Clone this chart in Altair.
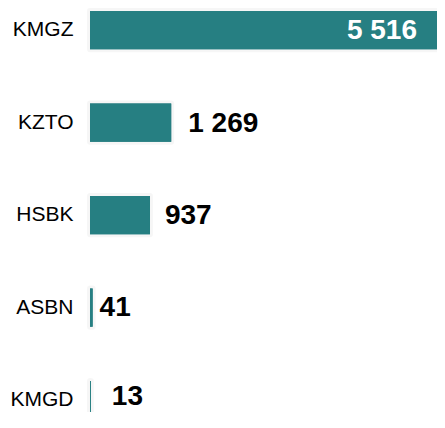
import altair as alt
import pandas as pd

tickers = ["KMGZ", "KZTO", "HSBK", "ASBN", "KMGD"]
values = [5516, 1269, 937, 41, 13]

df = pd.DataFrame({"ticker": tickers, "value": values})

FONT = "Liberation Sans"
BAR_COLOR = "#267f82"

y_enc = alt.Y(
    "ticker:N",
    sort=tickers,
    title=None,
    scale=alt.Scale(paddingInner=0.587, paddingOuter=0.0324, range=[0, 414.2]),
    axis=alt.Axis(
        domain=False, ticks=False, grid=False,
        labelFont=FONT, labelFontSize=21, labelColor="#000000",
        labelPadding=17,
    ),
)
x_enc = alt.X(
    "value:Q", title=None, axis=None,
    scale=alt.Scale(domain=[0, 5516], nice=False, zero=True, range=[0, 353]),
)

base = alt.Chart(df).transform_calculate(
    label="replace(format(datum.value, ','), ',', ' ')"
)

shadow = base.mark_bar(
    color=BAR_COLOR, stroke="#000000", strokeOpacity=0.035, strokeWidth=6,
    strokeJoin="round",
).encode(x=x_enc, y=y_enc)

bars = base.mark_bar(color=BAR_COLOR).encode(x=x_enc, y=y_enc)

inside = base.transform_filter(alt.datum.ticker == "KMGZ").mark_text(
    align="right", baseline="middle", dx=-26, dy=1,
    font=FONT, fontSize=28, fontWeight="bold", color="#ffffff",
).encode(x=x_enc, y=y_enc, text="label:N")

offsets = {"KZTO": (17, 1), "HSBK": (15, 1), "ASBN": (7, 0), "KMGD": (21, -3)}
layers = [shadow, bars, inside]
for t, (dx, dy) in offsets.items():
    layers.append(
        base.transform_filter(alt.datum.ticker == t).mark_text(
            align="left", baseline="middle", dx=dx, dy=dy,
            font=FONT, fontSize=28, fontWeight="bold", color="#000000",
        ).encode(x=x_enc, y=y_enc, text="label:N")
    )

chart = alt.layer(*layers).properties(
    width=345, height=404,
    padding={"left": 82, "top": 0, "right": 2, "bottom": 0},
    autosize=alt.AutoSizeParams(type="none"),
    background="#ffffff",
).configure_view(stroke=None)

chart.save("out.html", embed_options={"renderer": "svg", "actions": False})
